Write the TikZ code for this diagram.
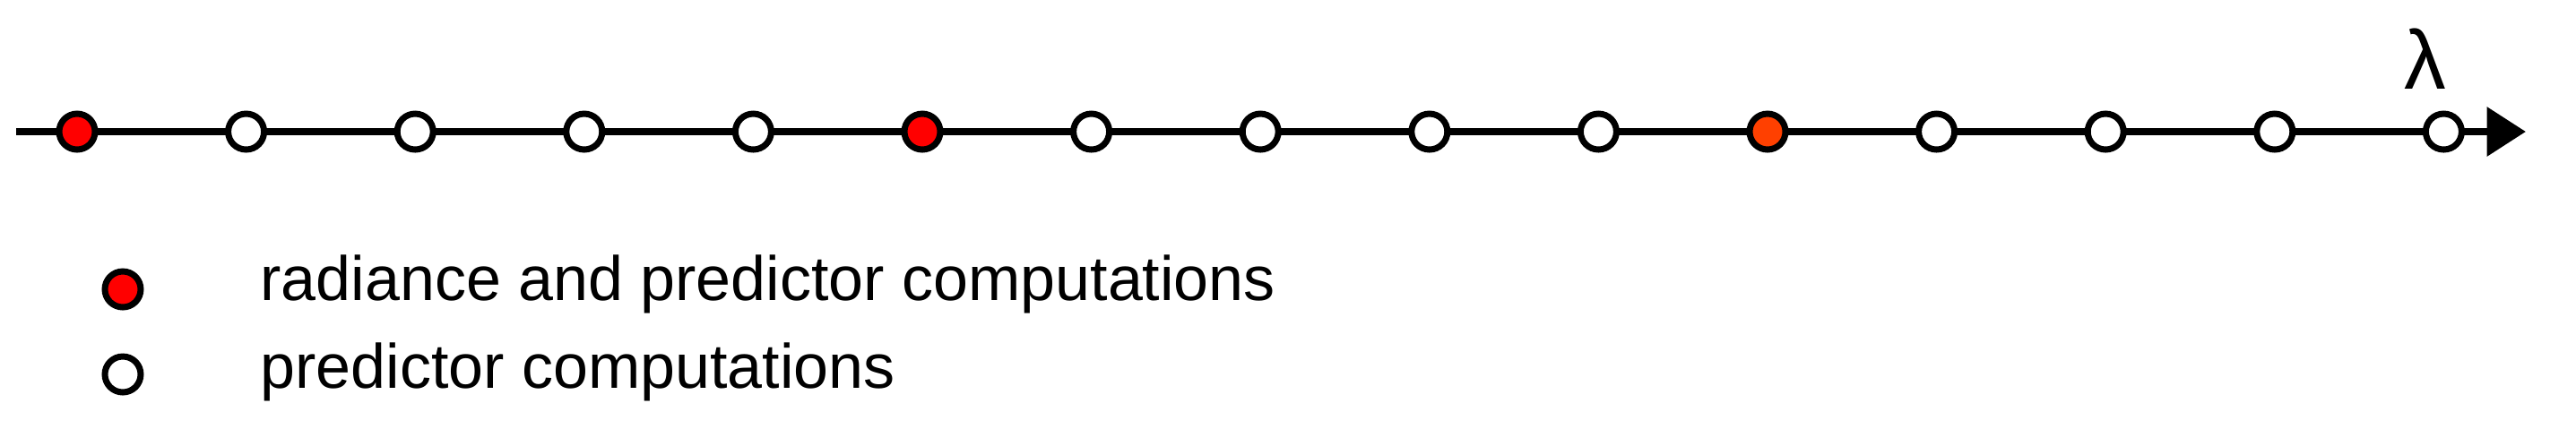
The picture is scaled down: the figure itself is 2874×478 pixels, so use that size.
\documentclass[tikz,border=0pt]{standalone}
\usepackage{fontspec}
\setmainfont{Liberation Sans}
\usetikzlibrary{arrows.meta}
\definecolor{dotred}{HTML}{FF0000}
\definecolor{dotorange}{HTML}{FF4000}
\begin{document}
\begin{tikzpicture}[x=0.3pt,y=-0.3pt,
  dot/.style={circle,draw=black,line width=2.1pt,minimum size=12pt,inner sep=0pt,fill=white},
  rdot/.style={dot,fill=dotred},
  odot/.style={dot,fill=dotorange},
  lbl/.style={font=\fontsize{21}{25}\selectfont,anchor=base west,inner sep=0pt}]
\useasboundingbox (0,0) rectangle (2874,478);
\coordinate (start) at (18,147);
\coordinate (end) at (2818,147);
\draw[line width=2.5pt,-{Triangle[length=13pt,width=16pt]}] (start) -- (end);
\foreach \i in {0,...,14}{
  \pgfmathsetmacro{\xx}{86+188.6*\i}
  \ifnum\i=0 \node[rdot] (d\i) at (\xx,147) {};
  \else\ifnum\i=5 \node[rdot] (d\i) at (\xx,147) {};
  \else\ifnum\i=10 \node[odot] (d\i) at (\xx,147) {};
  \else \node[dot] (d\i) at (\xx,147) {};
  \fi\fi\fi
}
\node[font=\fontsize{28}{32}\selectfont,anchor=base,inner sep=0pt] (lam) at (2706,99) {λ};
\node[rdot] (l1) at (137,323) {};
\node[dot] (l2) at (137,418) {};
\node[lbl] (t1) at (290,335) {radiance and predictor computations};
\node[lbl] (t2) at (290,433) {predictor computations};
\end{tikzpicture}
\end{document}
